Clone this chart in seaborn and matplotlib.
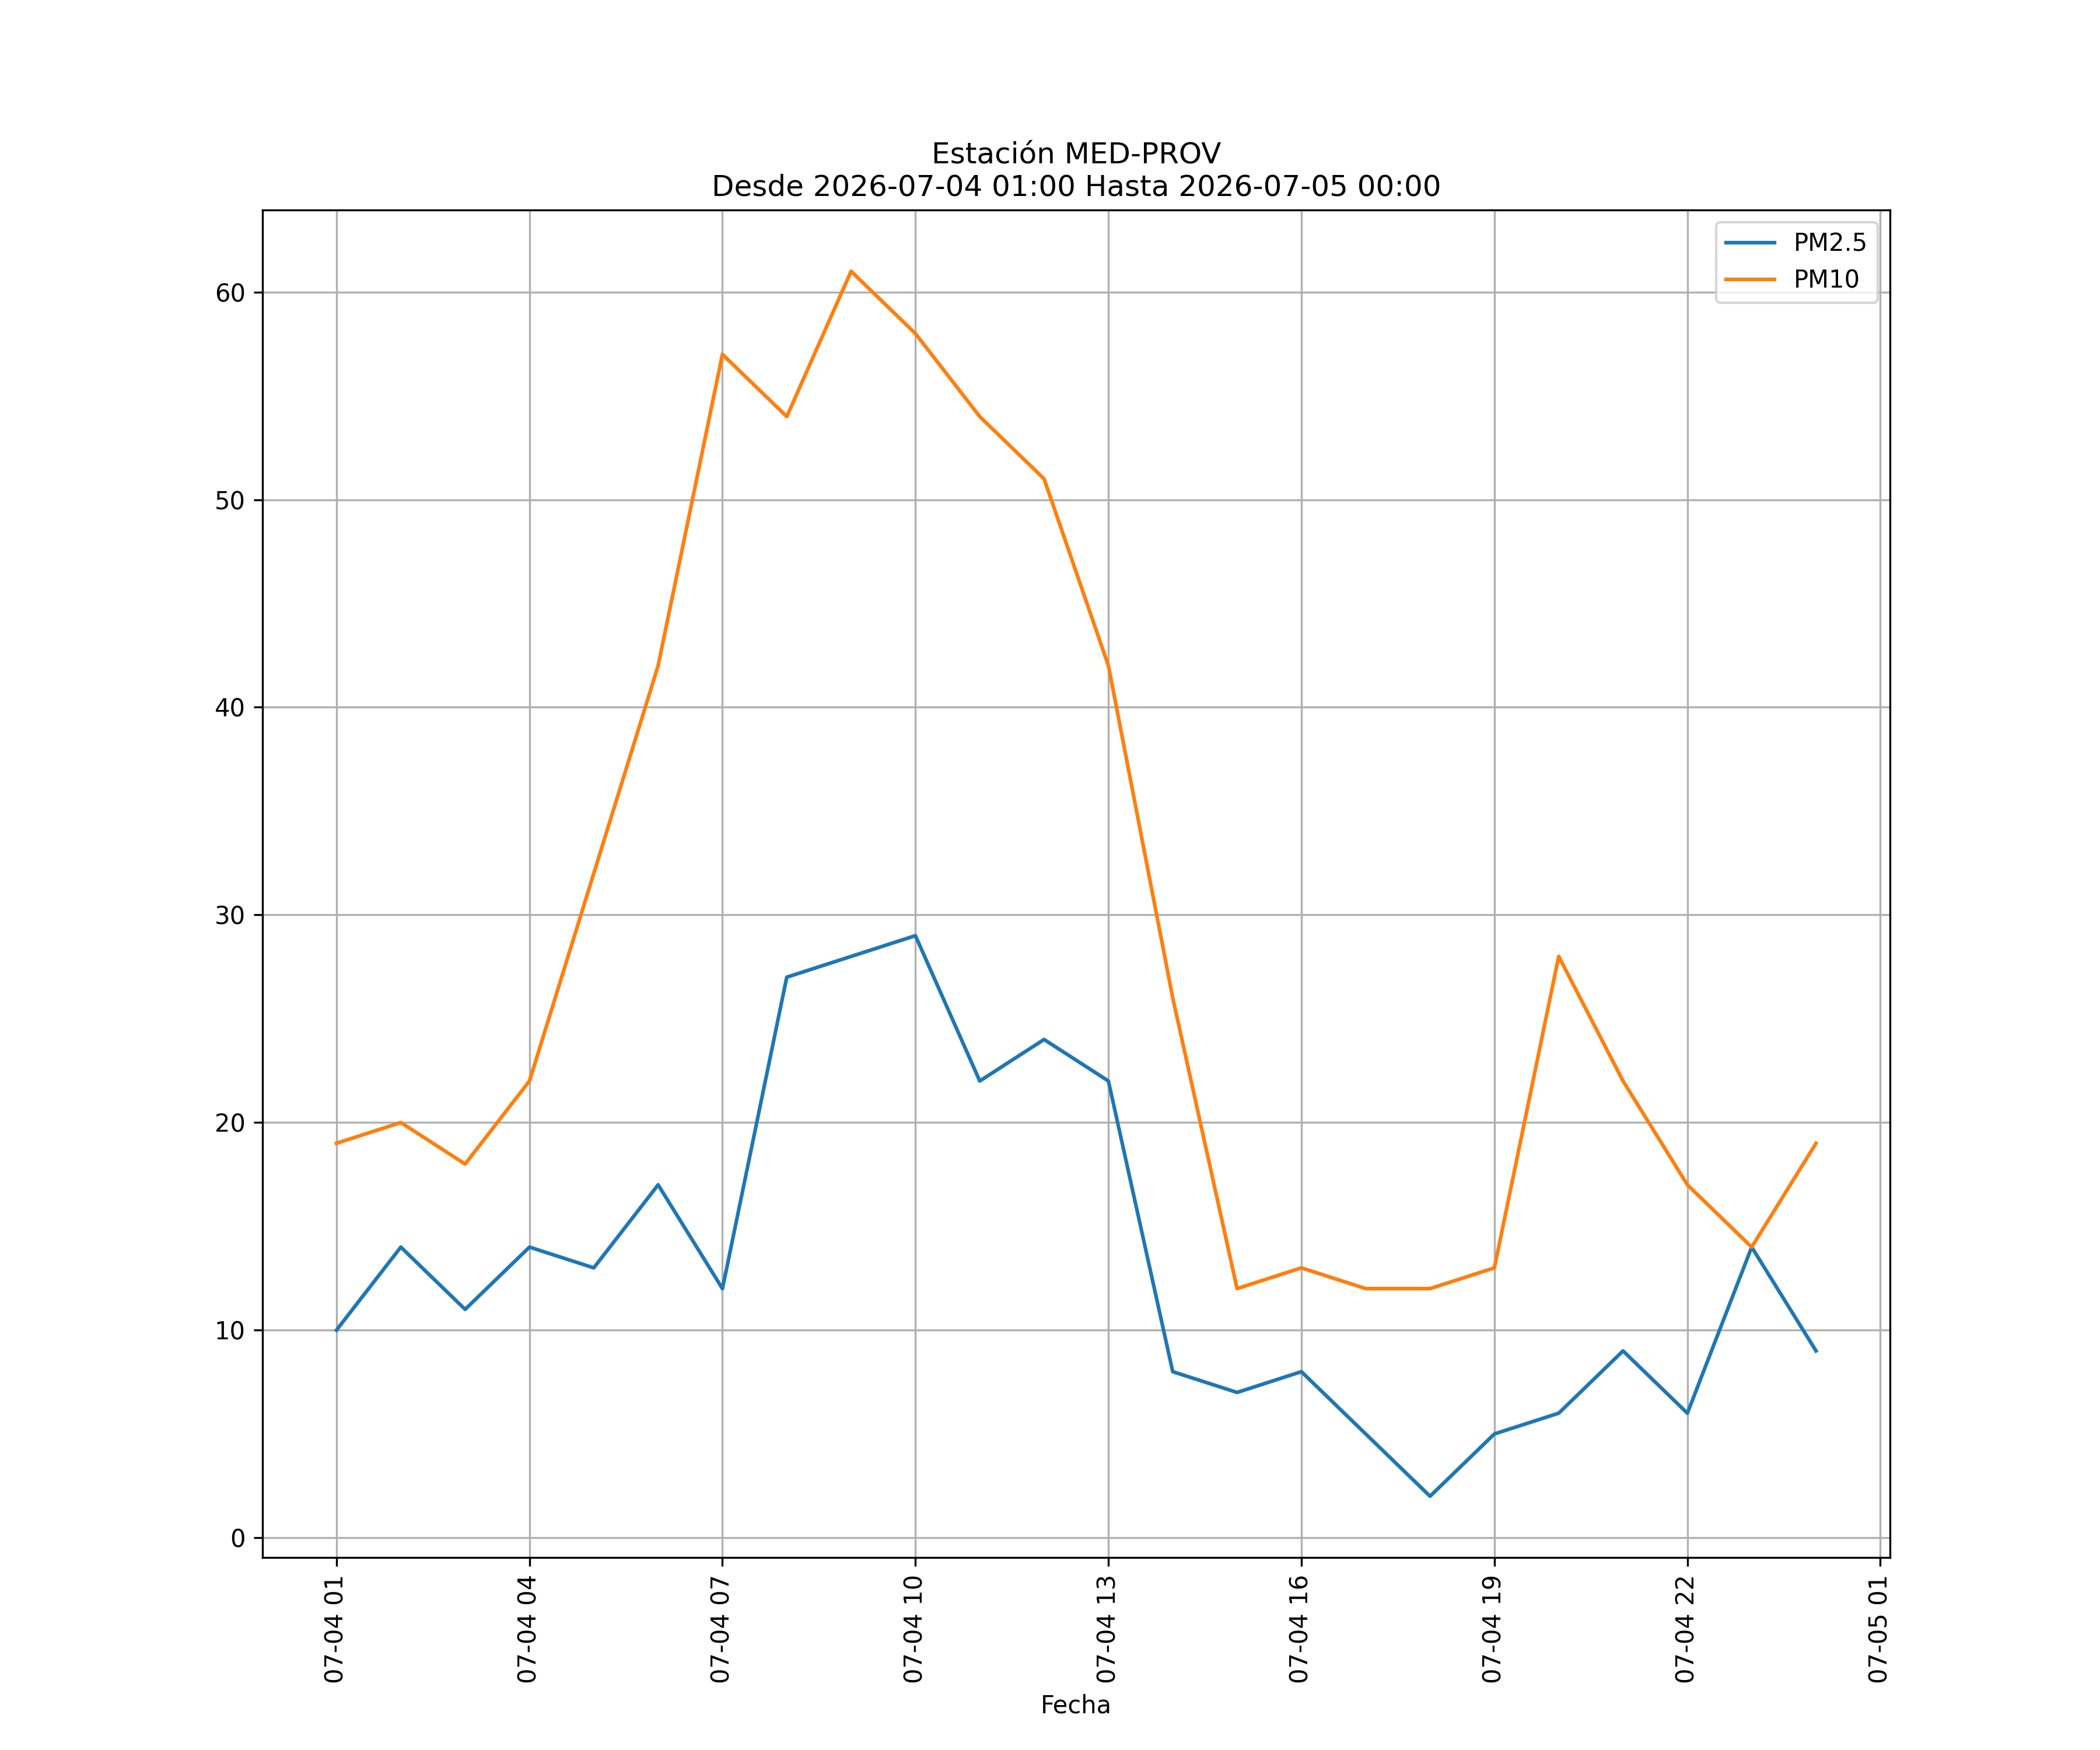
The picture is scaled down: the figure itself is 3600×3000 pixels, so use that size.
import pandas as pd
import matplotlib
matplotlib.use('Agg')
import matplotlib.pyplot as plt
import matplotlib.dates as mdates
import seaborn as sns

# datos horarios de la estacion
horas = pd.date_range('2026-07-04 01:00', '2026-07-05 00:00', freq='h')
pm25 = [10, 14, 11, 14, 13, 17, 12, 27, 28, 29, 22, 24,
        22, 8, 7, 8, 5, 2, 5, 6, 9, 6, 14, 9]
pm10 = [19, 20, 18, 22, 32, 42, 57, 54, 61, 58, 54, 51,
        42, 26, 12, 13, 12, 12, 13, 28, 22, 17, 14, 19]

df = pd.DataFrame({'Fecha': horas, 'PM2.5': pm25, 'PM10': pm10})

fig, ax = plt.subplots(figsize=(12, 10), dpi=300)
sns.lineplot(data=df, x='Fecha', y='PM2.5', ax=ax, label='PM2.5', color='#1f77b4')
sns.lineplot(data=df, x='Fecha', y='PM10', ax=ax, label='PM10', color='#ff7f0e')

ax.set_title('Estación MED-PROV\nDesde 2026-07-04 01:00 Hasta 2026-07-05 00:00')
ax.set_xlabel('Fecha')
ax.set_ylabel('')
ax.xaxis.set_major_locator(mdates.HourLocator(byhour=range(1, 24, 3)))
ax.xaxis.set_major_formatter(mdates.DateFormatter('%m-%d %H'))
plt.setp(ax.get_xticklabels(), rotation=90)
ax.grid(True)
ax.legend(loc='upper right')

fig.savefig('out.png')
plt.close(fig)
